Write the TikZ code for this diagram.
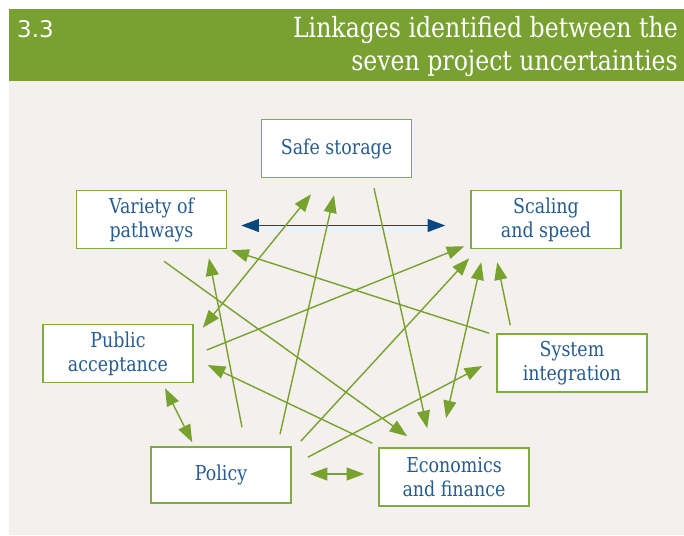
\documentclass[tikz,border=0pt]{standalone}
\usepackage{fontspec}
\setmainfont{DejaVu Serif}[FakeStretch=0.85]
\newfontfamily\numfont{DejaVu Sans}
\usepackage{xcolor}
\usepackage{tikz}
\usetikzlibrary{arrows.meta,positioning}
\definecolor{barGreen}{RGB}{121,161,50}
\definecolor{panelBeige}{RGB}{243,240,237}
\definecolor{lineGreen}{RGB}{120,162,46}
\definecolor{boxGreen}{RGB}{128,170,66}
\definecolor{textBlue}{RGB}{38,92,145}
\definecolor{darkBlue}{RGB}{10,70,128}

\begin{document}
\begin{tikzpicture}[x=0.03cm, y=-0.03cm,
    uncert/.style={draw=boxGreen, line width=1.3pt, fill=white, text=textBlue,
        align=center, minimum width=4.5cm, minimum height=1.74cm, inner sep=0pt,
        font=\fontsize{17.5}{20.5}\selectfont},
    link/.style={draw=lineGreen, line width=1.2pt, -{Triangle[length=15pt,width=11pt]}},
    twoway/.style={draw=lineGreen, line width=1.2pt,
        {Triangle[length=15pt,width=11pt]}-{Triangle[length=15pt,width=11pt]}},
    titletext/.style={text=white, inner sep=0pt, font=\fontsize{23.7}{28}\selectfont}]
    \useasboundingbox (0,0) rectangle (684,535);

    % Panel and header bar
    \fill[panelBeige] (9,81) rectangle (684,535);
    \fill[barGreen] (9,9) rectangle (684,81);
    \node[text=white, inner sep=0pt, anchor=base west, font=\numfont\fontsize{19.6}{23}\selectfont] (fignum) at (17,37) {3.3};
    \node[titletext, anchor=base east] (title1) at (678,37) {Linkages identified between the};
    \node[titletext, anchor=base east] (title2) at (678,70) {seven project uncertainties};

    % The seven uncertainties
    \node[uncert] (store) at (336.5,148.5) {Safe storage};
    \node[uncert] (variety) at (151.5,219.5) {Variety of\\pathways};
    \node[uncert] (scaling) at (546,219.5) {Scaling\\and speed};
    \node[uncert] (public) at (118,353.5) {Public\\acceptance};
    \node[uncert, minimum width=4.2cm, minimum height=1.68cm] (policy) at (221,475) {Policy};
    \node[uncert] (system) at (572,363) {System\\integration};
    \node[uncert] (econ) at (454,477) {Economics\\and finance};

    % Blue link
    \draw[darkBlue, line width=1.2pt, {Triangle[length=15pt,width=11pt]}-{Triangle[length=15pt,width=11pt]}]
        ([shift={(14,6)}]variety.east) -- ([shift={(-25,6)}]scaling.west);

    % Links out of policy
    \draw[link] ([shift={(21,-19)}]policy.north) -- ([shift={(57.5,9)}]variety.south);
    \draw[link] ([shift={(59,-12)}]policy.north) -- ([shift={(-2.5,17)}]store.south);
    \draw[link] ([shift={(9,-5)}]policy.north east) -- ([shift={(-1,9)}]scaling.south west);
    \draw[link] ([shift={(16,11)}]policy.north east) -- ([shift={(-14,3)}]system.west);
    \draw[twoway] ([shift={(42,-4)}]policy.north west) -- ([shift={(47,5)}]public.south);
    \draw[twoway] ([shift={(18,-1)}]policy.east) -- ([shift={(-14,-3)}]econ.west);

    % Other links
    \draw[twoway] ([shift={(9,4)}]public.north east) -- ([shift={(-25.5,16)}]store.south);
    \draw[link] ([shift={(13,-3.5)}]public.east) -- ([shift={(-6,-3)}]scaling.south west);
    \draw[twoway] ([shift={(-8,-29)}]econ.north) -- ([shift={(11,13)}]scaling.south west);
    \draw[link] ([shift={(14,-8)}]system.north west) -- ([shift={(27,13)}]scaling.south west);
    \draw[link] ([shift={(-7,0)}]system.north west) -- ([shift={(4,1)}]variety.south east);
    \draw[link] ([shift={(12.5,12)}]variety.south) -- ([shift={(29,-11)}]econ.north west);
    \draw[link] ([shift={(37.5,10)}]store.south) -- ([shift={(49,-19)}]econ.north west);
    \draw[link] ([shift={(-6,-4)}]econ.north west) -- ([shift={(14,11.5)}]public.east);
\end{tikzpicture}
\end{document}
